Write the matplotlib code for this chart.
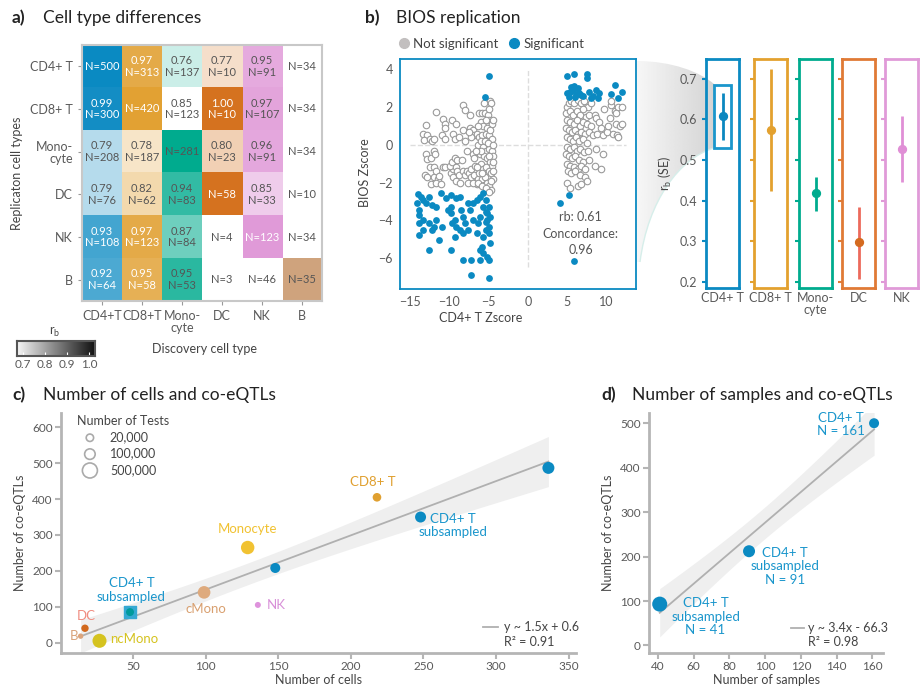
import numpy as np
import matplotlib
matplotlib.use('Agg')
import matplotlib.pyplot as plt
import matplotlib.colors as mcolors
from matplotlib.patches import Rectangle, PathPatch
from matplotlib.path import Path
from matplotlib.lines import Line2D

plt.rcParams['font.family'] = ['Lato', 'DejaVu Sans']

# ---------------- data ----------------
# panel a: replication heatmap (rows = replication, cols = discovery)
row_labels = ['CD4+ T', 'CD8+ T', 'Mono-\ncyte', 'DC', 'NK', 'B']
col_labels = ['CD4+T', 'CD8+T', 'Mono-\ncyte', 'DC', 'NK', 'B']
nan = np.nan
rb_matrix = [
    [nan, 0.97, 0.76, 0.77, 0.95, nan],
    [0.99, nan, 0.85, 1.00, 0.97, nan],
    [0.79, 0.78, nan, 0.80, 0.96, nan],
    [0.79, 0.82, 0.94, nan, 0.85, nan],
    [0.93, 0.97, 0.87, nan, nan, nan],
    [0.92, 0.95, 0.95, nan, nan, nan],
]
n_matrix = [
    [500, 313, 137, 10, 91, 34],
    [300, 420, 123, 10, 107, 34],
    [208, 187, 281, 23, 91, 34],
    [76, 62, 83, 58, 33, 10],
    [108, 123, 84, 4, 123, 34],
    [64, 58, 53, 3, 46, 35],
]
not_significant = [(1, 2)]

# panel b: BIOS replication scatter
nonsig_x = [-13.3, -13.0, -12.8, -13.2, -12.5, -12.2, -11.9, -13.0, -12.8, -12.3, -12.5, -12.0, -13.1, -12.8,
            -12.3, -11.9, -11.7, -11.5, -11.7, -11.3, -11.0, -11.7, -12.0, -11.8,
            -10.8, -10.6, -10.5, -10.9, -10.6, -10.8, -10.5, -9.8, -9.5, -9.9, -9.7, -9.3, -9.2, -9.0, -9.0,
            -9.5, -9.3, -8.8, -9.6, -9.2, -9.5, -9.2, -8.8, -8.7,
            -8.3, -8.0, -7.4, -8.2, -8.0, -7.8, -8.4, -8.2, -8.0, -7.8, -7.5, -7.3, -7.6, -7.2, -7.0, -6.7,
            -6.8, -7.4, -7.0, -6.8, -7.2, -7.5, -6.8, -6.4, -6.5, -7.0,
            -6.2, -5.8, -5.5, -5.1, -4.8, -4.7, -5.0, -4.6, -6.0, -5.7, -5.2, -6.5, -6.2, -5.8, -5.4, -5.0,
            -4.6, -6.4, -6.0, -5.7, -5.3, -5.0, -4.6, -4.5, -6.1, -5.6, -5.2, -4.8, -4.6, -6.0, -5.7, -5.3,
            -5.0, -4.7, -4.5, -6.2, -5.9, -5.5, -5.2, -4.9, -4.7, -6.3, -5.8, -5.4, -5.0, -6.0, -5.5, -5.1,
            -4.8, -4.5, -5.3, -4.9, -4.5, -5.8, -6.5, -4.4, -4.5, -6.6, -6.3, -5.0, -5.6, -4.7,
            4.9, 5.2, 5.5, 5.9, 6.3, 6.7, 7.1, 7.6, 8.0, 4.8, 5.3, 5.7, 6.2, 6.6, 7.0, 7.4, 7.8,
            5.0, 5.4, 5.8, 6.2, 6.6, 7.0, 7.5, 8.0, 4.8, 5.2, 5.6, 6.0, 6.4, 6.8, 7.3, 7.8, 8.3,
            4.9, 5.3, 5.7, 6.1, 6.5, 7.0, 7.5, 5.0, 5.4, 5.8, 6.2, 6.6, 7.1, 7.6, 4.8, 5.2, 5.6, 6.0,
            6.5, 7.0, 7.8, 5.0, 5.4, 5.8, 6.3, 6.8, 7.3, 5.1, 5.5, 6.0, 6.6, 7.2, 5.0, 5.3, 6.3, 6.8,
            7.5, 8.5, 9.3, 8.5, 8.7, 9.0, 9.3, 8.8, 9.5, 10.0, 10.5, 10.5, 11.0, 11.5, 11.2, 12.0, 10.8,
            11.2, 11.7, 12.0, 11.3, 11.5, 10.4, 9.7, 10.2, 8.7, 9.5]
nonsig_y = [0.6, 1.05, 0.5, 0.25, 0.3, 0.2, 0.3, -0.5, -0.75, -0.7, -1.2, -1.2, -1.6, -1.7,
            -2.1, -1.7, -1.4, -1.8, -2.0, -1.65, -2.1, 1.75, -0.3, -0.5,
            1.35, 1.1, 0.9, 0.5, 0.3, -1.2, -1.2, -1.5, -1.3, -1.1, -0.9, -0.7, -1.2, -0.8, -1.4,
            0.6, 0.3, 0.4, 1.3, 1.1, -1.7, -1.9, -1.6, -2.0,
            2.1, 1.85, 1.6, 0.8, 0.2, -0.3, -0.8, -1.4, -1.6, -1.4, -1.5, -1.7, -2.0, -1.3, -0.5, -1.1,
            -0.7, 0.9, 0.8, 0.5, 0.4, 0.7, -1.6, -1.8, -2.1, -2.0,
            1.7, 1.7, 1.7, 1.6, 2.3, 2.2, 1.3, 1.1, 1.2, 1.0, 0.9, 0.6, 0.4, 0.5, 0.6, 0.5,
            0.3, 0.0, 0.2, -0.1, -0.3, -0.2, -0.3, -0.6, -0.5, -0.6, -0.7, -0.9, -1.1, -1.0, -1.3, -1.2,
            -1.4, -1.5, -1.8, -1.5, -1.8, -1.7, -2.0, -2.2, -2.4, -2.0, -2.2, -2.3, -2.5, -0.3, 0.2, 0.1,
            0.8, 1.3, 1.3, -0.6, -1.4, -1.5, -1.2, -0.9, 0.0, -0.3, 1.0, 1.9, 2.2, -1.9,
            2.0, 2.2, 2.3, 2.2, 2.4, 2.2, 2.3, 2.0, 2.2, 1.7, 1.8, 1.6, 1.8, 1.6, 1.9, 1.5, 1.6,
            1.3, 1.2, 1.1, 1.3, 1.0, 1.2, 1.1, 1.0, 0.9, 0.8, 0.7, 0.8, 0.6, 0.7, 0.6, 0.7, 0.5,
            0.4, 0.3, 0.2, 0.4, 0.2, 0.3, 0.1, -0.1, -0.2, -0.1, -0.3, -0.2, -0.4, -0.3, -0.5, -0.6, -0.7, -0.6,
            -0.8, -0.9, -0.8, -1.0, -1.1, -1.2, -1.3, -1.1, -1.3, -1.4, -1.5, -1.4, -1.6, -1.7, -2.0, -2.3, -2.2, -2.1,
            -1.9, -1.1, -1.3, 1.6, 1.4, 1.2, 0.9, 0.6, 0.5, 0.7, 2.1, 2.3, 1.8, 2.0, 1.7, 2.0, 0.6,
            1.1, 1.0, 1.1, 0.5, 0.4, 1.4, 1.9, 1.0, -0.2, -0.5]
sig_x = [-5.0, -5.5, -14.0, -13.6, -14.1, -13.4, -13.0, -13.9, -12.2, -12.6, -11.7, -13.8, -13.3, -12.6,
         -12.0, -13.9, -13.4, -13.9, -12.2, -11.7, -10.9, -11.3, -12.6, -9.8, -11.0, -10.4, -9.8, -9.1,
         -8.7, -9.8, -9.3, -9.1, -9.6, -8.5, -8.3, -8.0, -8.7, -9.3, -8.3, -7.6, -7.4, -7.0, -6.5, -6.1,
         -5.7, -5.4, -5.7, -5.4, -5.2, -5.0, -5.2, -5.0, -5.4, -5.7, -5.0, -4.8, -6.1, -5.7, -5.2, -5.0,
         -6.1, -7.2, -8.3, -5.9, -7.2, -5.0, -5.4, -4.8, -6.1, -6.3, -7.0, -7.6, -6.5, -9.8, -10.2,
         5.0, 5.8, 7.5, 7.5, 5.5, 5.8, 4.9, 5.4, 5.7, 6.1, 6.5, 6.8, 5.2, 6.0, 7.0, 7.8, 8.3, 8.7, 9.0,
         8.9, 10.5, 11.0, 11.4, 12.0, 8.0, 6.3, 5.2, 4.1, 5.9]
sig_y = [3.63, 2.51, -2.62, -2.74, -3.10, -2.92, -3.10, -3.45, -3.19, -2.74, -3.27, -3.72, -3.98, -4.16,
         -4.34, -4.16, -4.51, -4.78, -4.51, -3.98, -4.34, -5.04, -5.58, -5.58, -2.57, -2.83, -2.65, -2.83,
         -2.74, -3.63, -3.98, -4.34, -4.16, -3.45, -3.81, -4.16, -4.51, -4.87, -4.69, -3.10, -3.45, -3.10,
         -2.92, -2.74, -2.57, -2.92, -3.27, -3.54, -3.63, -3.27, -3.98, -4.34, -4.51, -4.87, -4.69, -5.22,
         -5.58, -5.75, -5.93, -6.11, -6.11, -6.11, -6.11, -5.40, -6.90, -7.08, -4.07, -3.81, -3.81, -4.16,
         -3.98, -4.51, -4.69, -3.27, -3.45,
         3.65, 3.75, 3.75, 3.55, 3.05, 3.1, 2.75, 2.8, 2.9, 2.7, 2.75, 2.65, 2.55, 2.55, 2.6, 2.8, 2.6, 2.9,
         2.75, 2.5, 2.7, 3.15, 2.5, 2.8, 2.5, 3.0, -2.65, -3.1, -6.15]

# panel b right: r_b estimates with SE per cell type
rb_types = ['CD4+ T', 'CD8+ T', 'Mono-\ncyte', 'DC', 'NK']
rb_est = [0.608, 0.575, 0.418, 0.298, 0.527]
rb_lo = [0.550, 0.425, 0.375, 0.208, 0.447]
rb_hi = [0.665, 0.725, 0.458, 0.385, 0.608]

# panel c: number of cells vs co-eQTLs
c_names = ['CD4+ T', 'CD4+ T\nsubsampled', 'CD4+ T sub 148', 'CD4+ T\nsubsampled', 'CD8+ T',
           'Monocyte', 'cMono', 'NK', 'DC', 'B', 'ncMono']
n_cells = [336, 248, 148, 48, 218, 129, 99, 136, 17, 14, 27]
n_coeqtl_c = [487, 350, 208, 85, 405, 265, 140, 105, 40, 18, 5]
n_tests_c = [180000, 121000, 79000, 28000, 40000, 300000, 225000, 7700, 20000, 4800, 365000]

# panel d: number of samples vs co-eQTLs
n_samples = [41, 91, 161]
n_coeqtl_d = [93, 212, 500]
n_tests_d = [500000, 180000, 79000]
d_names = ['CD4+ T\nsubsampled\nN = 41', 'CD4+ T\nsubsampled\nN = 91', 'CD4+ T\nN = 161']

# ---------------- style ----------------
W, H = 921, 689
fig = plt.figure(figsize=(W / 100, H / 100), dpi=100)
TICK = '#5a5a5a'
LAB = '#444444'
BLUE = '#0b8ac2'


def px_axes(x0, y0, x1, y1):
    return fig.add_axes([x0 / W, 1 - y1 / H, (x1 - x0) / W, (y1 - y0) / H])


def ftext(x, y, s, **kw):
    return fig.text(x / W, 1 - y / H, s, **kw)


def panel_title(x, y, letter, title):
    ftext(x, y, letter, fontsize=12.5, fontweight='bold', va='center', color='#222222')
    ftext(x + 31, y, title, fontsize=12.5, va='center', color='#222222')


def tests_to_size(t):
    r = 3.7 * (np.asarray(t) / 20000.0) ** 0.22
    return (2 * r * 0.72) ** 2


def fit_band(x, y, xs, z=1.96):
    x = np.asarray(x, float)
    y = np.asarray(y, float)
    b, a = np.polyfit(x, y, 1)
    s = np.sqrt(np.sum((y - (a + b * x)) ** 2) / (len(x) - 2))
    se = s * np.sqrt(1 / len(x) + (xs - x.mean()) ** 2 / np.sum((x - x.mean()) ** 2))
    fit = a + b * xs
    return fit, fit - z * se, fit + z * se


# ---------------- panel a ----------------
panel_title(12, 18, 'a)', 'Cell type differences')
col_colors = ['#0b8ac2', '#e2a134', '#00ab8e', '#d5731f', '#e09ad8', '#cfa37d']
diag_white = [True, True, False, True, True, False]
off_white = [True, True, False, True, False, False]

ax_a = px_axes(82, 45, 322, 301)
img = np.ones((6, 6, 3))
for i in range(6):
    for j in range(6):
        base = np.array(mcolors.to_rgb(col_colors[j]))
        rb = rb_matrix[i][j]
        if i == j:
            t = 1.0
        elif np.isnan(rb) or (i, j) in not_significant:
            t = 0.0
        else:
            t = float(np.clip((rb - 0.7) / 0.3, 0, 1))
        img[i, j] = 1 - t * (1 - base)
        white = diag_white[j] if i == j else (t > 0.6 and off_white[j])
        txt = f'N={n_matrix[i][j]}' if np.isnan(rb) else f'{rb:.2f}\nN={n_matrix[i][j]}'
        ax_a.text(j, i, txt, ha='center', va='center', fontsize=8, linespacing=1.05,
                  color='white' if white else '#555555')
ax_a.imshow(img, extent=(-0.5, 5.5, 5.5, -0.5), aspect='auto', interpolation='nearest')
ax_a.set_xticks(range(6))
ax_a.set_xticklabels(col_labels, linespacing=1.0)
ax_a.set_yticks(range(6))
ax_a.set_yticklabels(row_labels, linespacing=1.0, ha='right')
ax_a.tick_params(length=3, color='#999999', labelsize=9, labelcolor=TICK)
for sp in ax_a.spines.values():
    sp.set_color('#c8c8c8')
    sp.set_linewidth(1.5)
ftext(204, 349, 'Discovery cell type', ha='center', va='center', fontsize=9, color=LAB)
ftext(17, 173, 'Replicaton cell types', ha='center', va='center', rotation=90, fontsize=9, color=LAB)

# colour scale
ax_cb = px_axes(17, 341, 95, 356)
grad = np.linspace(0, 1, 256)[None, :]
cmap_rb = mcolors.LinearSegmentedColormap.from_list('rb', ['#f6f6f6', '#111111'])
ax_cb.imshow(grad, extent=(0.675, 1.025, 0, 1), aspect='auto', cmap=cmap_rb)
ax_cb.set_xlim(0.675, 1.025)
ax_cb.set_yticks([])
ax_cb.set_xticks([0.7, 0.8, 0.9, 1.0])
ax_cb.set_xticklabels(['0.7', '0.8', '0.9', '1.0'])
ax_cb.tick_params(axis='x', direction='in', length=3, color='white', labelsize=8.5,
                  labelcolor=TICK, pad=2)
for sp in ax_cb.spines.values():
    sp.set_color('#555555')
    sp.set_linewidth(1.5)
ftext(55, 332, r'r$_\mathregular{b}$', ha='center', va='center', fontsize=9, color=LAB)

# ---------------- panel b ----------------
panel_title(365, 18, 'b)', 'BIOS replication')
ax_b = px_axes(400, 59, 636, 289)
ax_b.hlines(0, -15, 12.4, color='#dddddd', ls='--', lw=1, zorder=0)
ax_b.vlines(0, -6.5, 4.0, color='#dddddd', ls='--', lw=1, zorder=0)
ax_b.scatter(nonsig_x, nonsig_y, s=22, facecolors='white', edgecolors='#9a9a9a', linewidths=0.8, zorder=2)
ax_b.scatter(sig_x, sig_y, s=24, color=BLUE, linewidths=0, zorder=3)
ax_b.set_xlim(-16.27, 13.73)
ax_b.set_ylim(-7.64, 4.55)
ax_b.set_xticks([-15, -10, -5, 0, 5, 10])
ax_b.set_yticks([-6, -4, -2, 0, 2, 4])
ax_b.tick_params(length=0, labelsize=9, labelcolor=TICK, pad=5)
for sp in ax_b.spines.values():
    sp.set_color(BLUE)
    sp.set_linewidth(1.3)
ax_b.text(6.7, -4.7, 'rb: 0.61\nConcordance:\n0.96', ha='center', va='center', fontsize=9,
          color='#555555', linespacing=1.45)
ftext(365, 173, 'BIOS Zscore', ha='center', va='center', rotation=90, fontsize=9, color=LAB)
ftext(481, 318, 'CD4+ T Zscore', ha='center', va='center', fontsize=9, color=LAB)
fig.legend(handles=[Line2D([], [], marker='o', ls='', ms=7, color='#c2bfbf'),
                    Line2D([], [], marker='o', ls='', ms=7, color=BLUE)],
           labels=['Not significant', 'Significant'], ncol=2, loc='center',
           bbox_to_anchor=(490 / W, 1 - 44 / H), frameon=False, fontsize=9.5,
           handletextpad=0.1, columnspacing=0.6, handlelength=1.2, labelcolor=LAB)

# zoom funnel from the scatter to the CD4+ T panel (drawn underneath the panels)
ax_f = px_axes(630, 40, 716, 310)
ax_f.set_zorder(-1)
ax_f.set_xlim(630, 716)
ax_f.set_ylim(310, 40)
ax_f.axis('off')
ax_f.patch.set_alpha(0)
verts = [(637, 61), (672, 61), (700, 72), (714, 84), (714, 148),
         (680, 158), (648, 200), (640, 262), (637, 262), (637, 61)]
codes = [Path.MOVETO, Path.CURVE4, Path.CURVE4, Path.CURVE4, Path.LINETO,
         Path.CURVE4, Path.CURVE4, Path.CURVE4, Path.LINETO, Path.CLOSEPOLY]
funnel = PathPatch(Path(verts, codes), fc='none', ec='none', transform=ax_f.transData)
ax_f.add_patch(funnel)
rgba = np.zeros((2, 200, 4))
rgba[..., :3] = 0.6
rgba[..., 3] = np.linspace(0.08, 0.42, 200)[None, :]
im = ax_f.imshow(rgba, extent=(637, 714, 310, 40), aspect='auto', interpolation='bilinear')
im.set_clip_path(funnel)
edge = Path(verts[4:8], [Path.MOVETO, Path.CURVE4, Path.CURVE4, Path.CURVE4])
ax_f.add_patch(PathPatch(edge, fc='none', ec='#d6eeea', lw=1))

# r_b per cell type
rb_frame = ['#0b8ac2', '#e3a12f', '#00ab8e', '#e07a35', '#e09ad8']
rb_bar = ['#0b87c0', '#e3a12f', '#00ab8e', '#ec6a5c', '#e08fd6']
rb_dot = ['#0b87c0', '#e3a12f', '#00ab8e', '#d46a1f', '#e08fd6']
rb_left = [706, 754, 799, 842, 885]
for k in range(len(rb_types)):
    ax = px_axes(rb_left[k], 59, rb_left[k] + 33, 288)
    ax.vlines(0, rb_lo[k], rb_hi[k], color=rb_bar[k], lw=2)
    ax.scatter([0], [rb_est[k]], s=32, color=rb_dot[k], zorder=3)
    ax.set_xlim(-1, 1)
    ax.set_ylim(0.185, 0.749)
    ax.set_xticks([])
    ax.set_yticks([0.2, 0.3, 0.4, 0.5, 0.6, 0.7])
    ax.tick_params(axis='y', length=3, width=1.5, color=rb_frame[k], labelsize=9, labelcolor=TICK)
    if k > 0:
        ax.set_yticklabels([])
    else:
        ax.patch.set_alpha(0)
        ax.add_patch(Rectangle((-0.515, 0.53), 1.03, 0.155, fill=False, ec='#1a96cc', lw=2, zorder=4))
        ax.set_ylabel(r'r$_\mathregular{b}$ (SE)', fontsize=9, color=LAB, labelpad=4)
    ax.set_xlabel(rb_types[k], fontsize=9, color=TICK, labelpad=3, linespacing=1.0)
    for sp in ax.spines.values():
        sp.set_color(rb_frame[k])
        sp.set_linewidth(2)

# ---------------- panel c ----------------
panel_title(12, 395, 'c)', 'Number of cells and co-eQTLs')
ax_c = px_axes(61, 413, 576, 653)
xs = np.linspace(min(n_cells), max(n_cells), 100)
fit, lo, hi = fit_band(n_cells, n_coeqtl_c, xs)
ax_c.fill_between(xs, lo, hi, color='#efefef', lw=0, zorder=1)
ax_c.plot(xs, fit, color='#b0b0b0', lw=1.3, zorder=2)
c_colors = [BLUE, BLUE, BLUE, '#009a9c', '#e0a030', '#f1c232', '#deaa7d', '#de92dc', '#d2691e',
            '#dba47c', '#d5c320']
ax_c.scatter(n_cells[3], n_coeqtl_c[3], marker='s', s=74, color='#36a9d3', zorder=3)
ax_c.scatter(n_cells, n_coeqtl_c, s=tests_to_size(n_tests_c), c=c_colors, linewidths=0, zorder=4)
c_label_style = [
    None,
    dict(xytext=(23, -6), color='#1a96cc', ha='center'),
    None,
    dict(xytext=(1, 16), color='#1a96cc', ha='center'),
    dict(xytext=(-3, 11), color='#e0a030', ha='center'),
    dict(xytext=(0, 13), color='#f1c232', ha='center'),
    dict(xytext=(1, -12), color='#d9a070', ha='center'),
    dict(xytext=(6.5, 0), color='#d890d8', ha='left'),
    dict(xytext=(0.7, 9), color='#f08c80', ha='center'),
    dict(xytext=(-5, 0), color='#d9a37a', ha='center'),
    dict(xytext=(8, 1), color='#d5c320', ha='left'),
]
for k, st in enumerate(c_label_style):
    if st is None:
        continue
    ax_c.annotate(c_names[k], (n_cells[k], n_coeqtl_c[k]), textcoords='offset points',
                  va='center', fontsize=9.5, linespacing=1.15, **st)
ax_c.set_xlim(0.5, 355)
ax_c.set_ylim(-29, 640)
ax_c.set_xticks([50, 100, 150, 200, 250, 300, 350])
ax_c.set_yticks([0, 100, 200, 300, 400, 500, 600])
ax_c.set_xlabel('Number of cells', fontsize=9, color=LAB, labelpad=1)
ax_c.set_ylabel('Number of co-eQTLs', fontsize=9, color=LAB, labelpad=4)
size_handles = [ax_c.scatter([], [], s=tests_to_size(t), facecolors='none', edgecolors='#aaaaaa',
                             linewidths=1.2) for t in [20000, 100000, 500000]]
ax_c.legend(size_handles, ['20,000', '100,000', '500,000'], title='Number of Tests',
            loc='upper left', bbox_to_anchor=(0.01, 1.04), frameon=False, fontsize=9,
            title_fontsize=9, alignment='left', labelspacing=0.35, handletextpad=0.6,
            labelcolor=LAB)
ax_c.get_legend().get_title().set_color(LAB)
fig.add_artist(Line2D([483 / W, 498 / W], [1 - 627 / H, 1 - 627 / H], color='#b0b0b0', lw=1.3))
ftext(504, 627, 'y ~ 1.5x + 0.6', va='center', fontsize=9, color=LAB)
ftext(504, 642, 'R² = 0.91', va='center', fontsize=9, color=LAB)

# ---------------- panel d ----------------
panel_title(601, 395, 'd)', 'Number of samples and co-eQTLs')
ax_d = px_axes(649, 413, 883, 653)
xs = np.linspace(min(n_samples), max(n_samples), 100)
fit, lo, hi = fit_band(n_samples, n_coeqtl_d, xs, z=1.5)
ax_d.fill_between(xs, lo, hi, color='#efefef', lw=0, zorder=1)
ax_d.plot(xs, fit, color='#b0b0b0', lw=1.3, zorder=2)
ax_d.scatter(n_samples, n_coeqtl_d, s=tests_to_size(n_tests_d), color=BLUE, linewidths=0, zorder=4)
d_offsets = [(33, -9), (26, -11), (-24, -1)]
for k in range(len(n_samples)):
    ax_d.annotate(d_names[k], (n_samples[k], n_coeqtl_d[k]), xytext=d_offsets[k],
                  textcoords='offset points', ha='center', va='center', fontsize=9.5,
                  linespacing=1.15, color='#1a96cc')
ax_d.set_xlim(35, 166)
ax_d.set_ylim(-17, 523)
ax_d.set_xticks([40, 60, 80, 100, 120, 140, 160])
ax_d.set_yticks([0, 100, 200, 300, 400, 500])
ax_d.set_xlabel('Number of samples', fontsize=9, color=LAB, labelpad=1)
ax_d.set_ylabel('Number of co-eQTLs', fontsize=9, color=LAB, labelpad=4)
fig.add_artist(Line2D([791 / W, 804 / W], [1 - 628 / H, 1 - 628 / H], color='#b0b0b0', lw=1.3))
ftext(808, 628, 'y ~ 3.4x - 66.3', va='center', fontsize=9, color=LAB)
ftext(808, 642, 'R² = 0.98', va='center', fontsize=9, color=LAB)

for ax in (ax_c, ax_d):
    for side in ('top', 'right'):
        ax.spines[side].set_visible(False)
    for side in ('left', 'bottom'):
        ax.spines[side].set_color('#b5b5b5')
        ax.spines[side].set_linewidth(2)
    ax.tick_params(length=4, width=1.5, color='#b5b5b5', labelsize=8.5, labelcolor=TICK, pad=2)

fig.savefig('out.png', dpi=100)
